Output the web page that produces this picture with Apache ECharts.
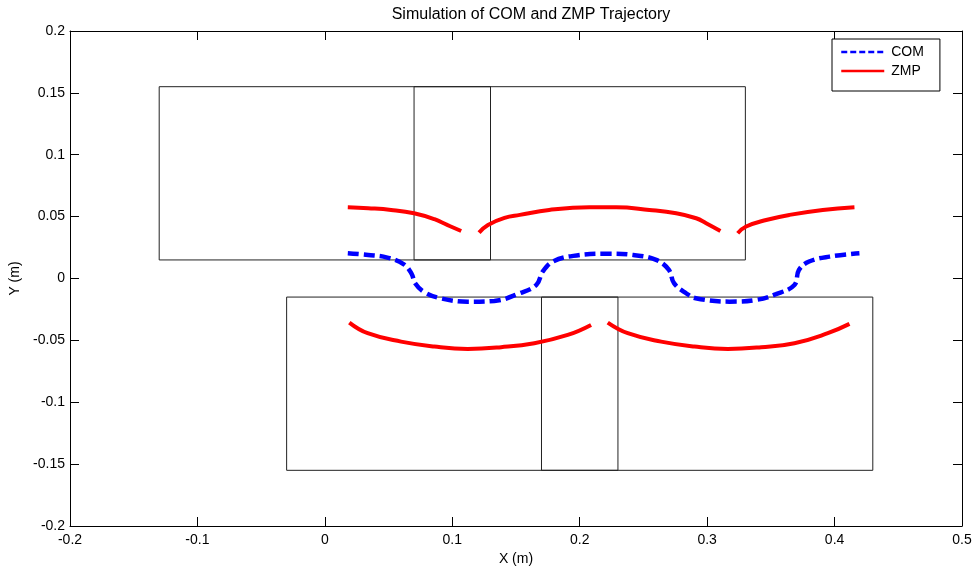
<!DOCTYPE html>
<html>
<head>
<meta charset="utf-8">
<script src="https://cdn.jsdelivr.net/npm/echarts@6/dist/echarts.min.js"></script>
<style>html,body{margin:0;padding:0;background:#fff;}#c{width:977px;height:569px;}</style>
</head>
<body>
<div id="c"></div>
<script>
// ---- data ----
var footCenterX = [0, 0.1, 0.2, 0.3];
var footCenterY = [0.085, -0.085, 0.085, -0.085];
var footLength = 0.26;
var footWidth = 0.14;

var comPath = [
  [0.018, 0.0204], [0.034, 0.019], [0.049, 0.0169], [0.062, 0.0115], [0.068, 0.004],
  [0.071, -0.004], [0.078, -0.011], [0.091, -0.016], [0.112, -0.0187], [0.133, -0.0181],
  [0.153, -0.0119], [0.166, -0.0052], [0.171, 0.0056], [0.179, 0.0137], [0.195, 0.0183],
  [0.221, 0.0201], [0.242, 0.019], [0.260, 0.015], [0.270, 0.0069], [0.274, -0.0038],
  [0.2835, -0.0119], [0.291, -0.0159], [0.3175, -0.0187], [0.3385, -0.0173], [0.354, -0.0127],
  [0.3685, -0.0052], [0.372, 0.0069], [0.380, 0.0137], [0.396, 0.0177], [0.4195, 0.0204]
];
var zmpSeg1 = [[0.018, 0.0576], [0.034, 0.0568], [0.052, 0.0554], [0.070, 0.0527], [0.086, 0.0479], [0.096, 0.0433], [0.107, 0.0384]];
var zmpSeg2 = [[0.121, 0.0371], [0.128, 0.0433], [0.141, 0.049], [0.153, 0.0514], [0.176, 0.0554], [0.2076, 0.0576], [0.2286, 0.0576], [0.2547, 0.0554], [0.2757, 0.0527], [0.2914, 0.0487], [0.2992, 0.0447], [0.3104, 0.0384]];
var zmpSeg3 = [[0.324, 0.0366], [0.3306, 0.042], [0.3463, 0.0473], [0.3646, 0.0514], [0.3907, 0.0554], [0.4156, 0.0576]];
var zmpSeg4 = [[0.0192, -0.0356], [0.0336, -0.0442], [0.0598, -0.051], [0.0859, -0.055], [0.1121, -0.0569], [0.1383, -0.0555], [0.1644, -0.0523], [0.1906, -0.0456], [0.2089, -0.0375]];
var zmpSeg5 = [[0.222, -0.0356], [0.2377, -0.0442], [0.2639, -0.051], [0.29, -0.055], [0.3162, -0.0569], [0.3424, -0.0555], [0.3685, -0.0523], [0.3947, -0.0442], [0.4117, -0.0367]];

var xTicks = { min: -0.2, max: 0.5, step: 0.1 };
var yTicks = { min: -0.2, max: 0.2, step: 0.05 };

// ---- chart ----
var FONT = 'Liberation Sans, Arial, sans-serif';
function fmt(v) { return (+v.toFixed(3)).toString(); }

var series = [];
footCenterX.forEach(function (cx, i) {
  var cy = footCenterY[i];
  var x0 = cx - footLength / 2, x1 = cx + footLength / 2;
  var y0 = cy - footWidth / 2, y1 = cy + footWidth / 2;
  series.push({
    type: 'line', silent: true, symbol: 'none', z: 1,
    data: [[x0, y0], [x1, y0], [x1, y1], [x0, y1], [x0, y0]],
    lineStyle: { color: '#222', width: 1 },
    animation: false
  });
});
series.push({
  name: 'COM', type: 'line', symbol: 'none', smooth: 0.4, z: 5,
  data: comPath,
  lineStyle: { color: '#0000ff', width: 4.5, type: [11, 5] },
  itemStyle: { color: '#0000ff' },
  animation: false
});
[zmpSeg1, zmpSeg2, zmpSeg3, zmpSeg4, zmpSeg5].forEach(function (seg) {
  series.push({
    name: 'ZMP', type: 'line', symbol: 'none', smooth: 0.45, z: 4,
    data: seg,
    lineStyle: { color: '#ff0000', width: 4 },
    itemStyle: { color: '#ff0000' },
    animation: false
  });
});

function xAxisCfg(pos, showLabel) {
  return {
    type: 'value', position: pos, min: xTicks.min, max: xTicks.max, interval: xTicks.step,
    axisLine: { show: true, onZero: false, lineStyle: { color: '#000', width: 1 } },
    axisTick: { show: true, inside: true, length: 9, lineStyle: { color: '#000' } },
    axisLabel: { show: showLabel, color: '#000', fontSize: 14, fontFamily: FONT, margin: 7, formatter: fmt },
    splitLine: { show: false }
  };
}
function yAxisCfg(pos, showLabel) {
  return {
    type: 'value', position: pos, min: yTicks.min, max: yTicks.max, interval: yTicks.step,
    axisLine: { show: true, onZero: false, lineStyle: { color: '#000', width: 1 } },
    axisTick: { show: true, inside: true, length: 9, lineStyle: { color: '#000' } },
    axisLabel: { show: showLabel, color: '#000', fontSize: 14, fontFamily: FONT, margin: 5, formatter: fmt },
    splitLine: { show: false }
  };
}
var xa = xAxisCfg('bottom', true);
xa.name = 'X (m)'; xa.nameLocation = 'middle'; xa.nameGap = 24;
xa.nameTextStyle = { color: '#000', fontSize: 14, fontFamily: FONT };
var ya = yAxisCfg('left', true);
ya.name = 'Y (m)'; ya.nameLocation = 'middle'; ya.nameGap = 48;
ya.nameTextStyle = { color: '#000', fontSize: 14, fontFamily: FONT };

var chart = echarts.init(document.getElementById('c'), null, { renderer: 'canvas' });
chart.setOption({
  backgroundColor: '#fff',
  animation: false,
  grid: { left: 70, right: 15, top: 31, bottom: 43, containLabel: false, outerBoundsMode: 'none' },
  xAxis: [xa, xAxisCfg('top', false)],
  yAxis: [ya, yAxisCfg('right', false)],
  legend: {
    orient: 'vertical', left: 832, top: 39,
    data: [
      { name: 'COM', lineStyle: { color: '#0000ff', type: [6, 3], width: 2.5, opacity: 1 }, itemStyle: { color: 'rgba(0,0,0,0)', borderWidth: 0 } },
      { name: 'ZMP', lineStyle: { color: '#ff0000', width: 2.5, opacity: 1 }, itemStyle: { color: 'rgba(0,0,0,0)', borderWidth: 0 } }
    ],
    itemWidth: 43, itemHeight: 14, itemGap: 5,
    padding: [6, 16, 13, 8],
    borderColor: '#000', borderWidth: 1, backgroundColor: '#fff',
    textStyle: { color: '#000', fontSize: 14, fontFamily: FONT, padding: [0, 0, 0, 2] },
    selectedMode: false
  },
  graphic: [{
    type: 'text', x: 531, y: 15,
    style: { text: 'Simulation of COM and ZMP Trajectory', fill: '#000', font: '16px ' + FONT, textAlign: 'center', textVerticalAlign: 'middle' }
  }],
  series: series
});
</script>
</body>
</html>
